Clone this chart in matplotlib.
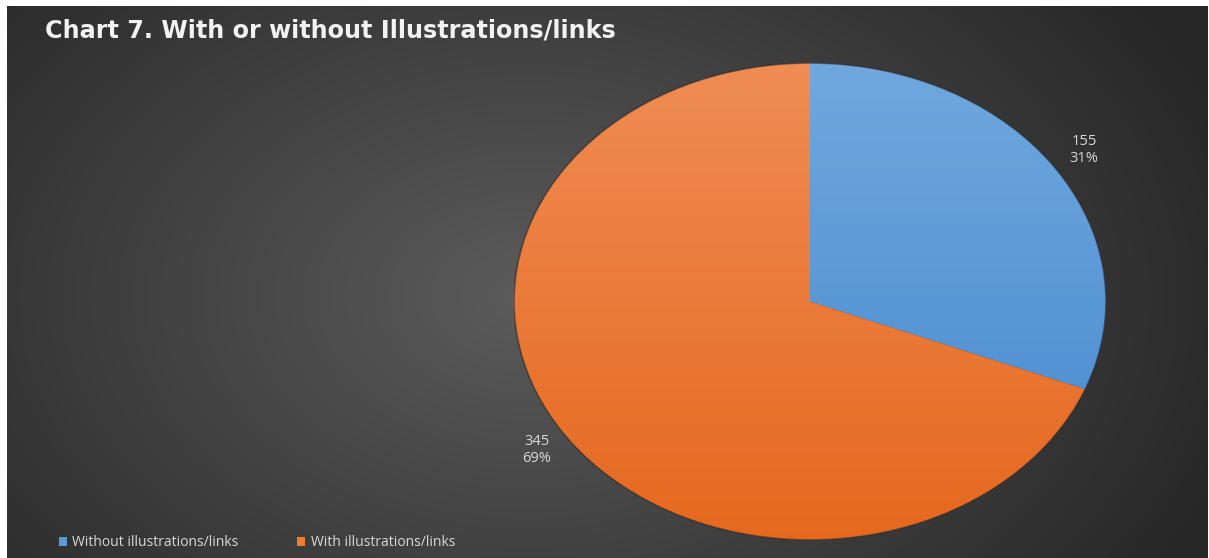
import numpy as np
import matplotlib.pyplot as plt
from matplotlib.patches import Patch, Ellipse

title = 'Chart 7. With or without Illustrations/links'
categories = ['Without illustrations/links', 'With illustrations/links']
counts = [155, 345]
percents = ['31%', '69%']

# gradient ends for each slice (top colour, bottom colour)
slice_top = [(0.44, 0.66, 0.87), (0.94, 0.55, 0.33)]
slice_bottom = [(0.27, 0.53, 0.81), (0.90, 0.41, 0.12)]
legend_colors = ['#5b9bd5', '#ed7d31']

W, H = 1209, 558
fig = plt.figure(figsize=(W / 100, H / 100), dpi=100)
fig.patch.set_facecolor('white')

# dark panel with radial gradient
bg = fig.add_axes([7 / W, 0, 1200 / W, 552 / H])
bg.set_axis_off()
yy, xx = np.mgrid[0:552, 0:1200]
d = np.sqrt(((xx - 520) / 760) ** 2 + ((yy - 290) / 520) ** 2)
d = np.clip(d, 0, 1)
shade = 0.36 - 0.21 * d
bg.imshow(np.dstack([shade] * 3), aspect='auto', extent=[0, 1, 0, 1])
bg.set_xlim(0, 1)
bg.set_ylim(0, 1)

# pie axes stretched into an ellipse
cx, cy, rx, ry = 810, 558 - 301.5, 296, 238.5
ax = fig.add_axes([(cx - rx) / W, (cy - ry) / H, 2 * rx / W, 2 * ry / H])
ax.set_axis_off()
wedges, _ = ax.pie(counts, startangle=90, counterclock=False, radius=1,
                   wedgeprops=dict(edgecolor='none'))
ax.set_aspect('auto')
ax.set_xlim(-1, 1)
ax.set_ylim(-1, 1)

t = np.linspace(0, 1, 256)[:, None]
for w, top, bot in zip(wedges, slice_top, slice_bottom):
    grad = np.array(top)[None, None, :] * (1 - t[..., None]) + np.array(bot)[None, None, :] * t[..., None]
    grad = np.repeat(grad, 2, axis=1)
    im = ax.imshow(grad, extent=[-1, 1, -1, 1], aspect='auto', zorder=1)
    im.set_clip_path(w)
    w.set_facecolor('none')

ring = Ellipse((0, 0), 2, 2, fill=False, edgecolor='#2a2a2a',
               linewidth=1.2, alpha=0.6, zorder=3)
ax.add_patch(ring)

# data labels
label_pos = [(1084, 150), (537, 450)]
for (px, py), n, p in zip(label_pos, counts, percents):
    fig.text(px / W, 1 - py / H, f'{n}\n{p}', ha='center', va='center',
             color='#d9d9d9', fontsize=10.5, family='Open Sans', linespacing=1.2)

fig.text(45 / W, 1 - 31 / H, title, ha='left', va='center', color='#f2f2f2',
         fontsize=17.2, fontweight='bold', family='DejaVu Sans')

handles = [Patch(facecolor=c, edgecolor='none') for c in legend_colors]
leg = fig.legend(handles, categories, loc='center left', ncol=2, frameon=False,
                 bbox_to_anchor=(46 / W, 1 - 543 / H), handlelength=0.6,
                 handleheight=0.6, handletextpad=0.4, columnspacing=4.2,
                 prop={'family': 'Open Sans', 'size': 10})
for txt in leg.get_texts():
    txt.set_color('#d9d9d9')

fig.savefig('out.png', dpi=100, facecolor=fig.get_facecolor())
